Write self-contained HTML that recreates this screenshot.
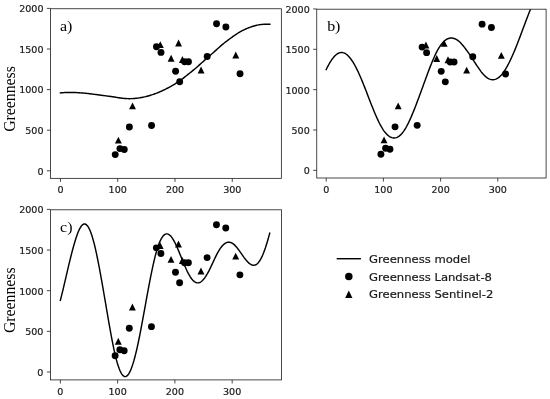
<!DOCTYPE html>
<html><head><meta charset="utf-8"><title>Greenness model</title>
<style>
html,body{margin:0;padding:0;background:#fff;}
body{width:550px;height:399px;overflow:hidden;}
svg{display:block;}
.tk{font-family:"DejaVu Sans","Liberation Sans",sans-serif;font-size:9.55px;fill:#1a1a1a;stroke:#1a1a1a;stroke-width:0.2px;}
.lg{font-family:"DejaVu Sans","Liberation Sans",sans-serif;font-size:10.9px;fill:#1a1a1a;stroke:#1a1a1a;stroke-width:0.2px;}
.sf{font-family:"Liberation Serif","DejaVu Serif",serif;font-size:15.8px;fill:#000;}
</style></head><body>
<svg width="550" height="399" viewBox="0 0 550 399">
<rect width="550" height="399" fill="#fff"/>
<clipPath id="clipa"><rect x="50.5" y="8.75" width="230.85" height="169.60"/></clipPath>
<g clip-path="url(#clipa)">
<path d="M60.45,92.87 L61.33,92.80 L62.20,92.74 L63.08,92.68 L63.95,92.62 L64.83,92.58 L65.71,92.53 L66.58,92.50 L67.46,92.47 L68.33,92.45 L69.21,92.44 L70.09,92.44 L70.96,92.44 L71.84,92.45 L72.71,92.46 L73.59,92.48 L74.47,92.51 L75.34,92.54 L76.22,92.58 L77.10,92.62 L77.97,92.67 L78.85,92.72 L79.72,92.78 L80.60,92.85 L81.48,92.91 L82.35,92.99 L83.23,93.06 L84.10,93.14 L84.98,93.22 L85.86,93.31 L86.73,93.40 L87.61,93.49 L88.48,93.59 L89.36,93.69 L90.24,93.80 L91.11,93.91 L91.99,94.02 L92.86,94.13 L93.74,94.25 L94.62,94.36 L95.49,94.48 L96.37,94.59 L97.24,94.71 L98.12,94.82 L99.00,94.94 L99.87,95.06 L100.75,95.18 L101.62,95.30 L102.50,95.42 L103.38,95.54 L104.25,95.65 L105.13,95.77 L106.01,95.88 L106.88,96.00 L107.76,96.11 L108.63,96.22 L109.51,96.33 L110.39,96.45 L111.26,96.57 L112.14,96.69 L113.01,96.82 L113.89,96.95 L114.77,97.09 L115.64,97.24 L116.52,97.38 L117.39,97.53 L118.27,97.67 L119.15,97.81 L120.02,97.94 L120.90,98.07 L121.77,98.18 L122.65,98.28 L123.53,98.37 L124.40,98.45 L125.28,98.52 L126.15,98.57 L127.03,98.61 L127.91,98.64 L128.78,98.66 L129.66,98.66 L130.54,98.65 L131.41,98.63 L132.29,98.60 L133.16,98.55 L134.04,98.50 L134.92,98.43 L135.79,98.34 L136.67,98.25 L137.54,98.14 L138.42,98.02 L139.30,97.88 L140.17,97.74 L141.05,97.58 L141.92,97.42 L142.80,97.24 L143.68,97.06 L144.55,96.86 L145.43,96.66 L146.30,96.44 L147.18,96.21 L148.06,95.97 L148.93,95.73 L149.81,95.47 L150.68,95.21 L151.56,94.93 L152.44,94.65 L153.31,94.35 L154.19,94.05 L155.06,93.73 L155.94,93.40 L156.82,93.07 L157.69,92.72 L158.57,92.36 L159.45,91.99 L160.32,91.61 L161.20,91.22 L162.07,90.83 L162.95,90.42 L163.83,90.00 L164.70,89.57 L165.58,89.14 L166.45,88.69 L167.33,88.24 L168.21,87.78 L169.08,87.31 L169.96,86.83 L170.83,86.34 L171.71,85.85 L172.59,85.34 L173.46,84.82 L174.34,84.29 L175.21,83.76 L176.09,83.21 L176.97,82.66 L177.84,82.09 L178.72,81.50 L179.59,80.90 L180.47,80.29 L181.35,79.65 L182.22,79.00 L183.10,78.32 L183.97,77.64 L184.85,76.94 L185.73,76.25 L186.60,75.55 L187.48,74.86 L188.36,74.17 L189.23,73.47 L190.11,72.78 L190.98,72.08 L191.86,71.37 L192.74,70.66 L193.61,69.93 L194.49,69.20 L195.36,68.46 L196.24,67.70 L197.12,66.94 L197.99,66.17 L198.87,65.39 L199.74,64.60 L200.62,63.81 L201.50,63.02 L202.37,62.23 L203.25,61.43 L204.12,60.63 L205.00,59.84 L205.88,59.05 L206.75,58.27 L207.63,57.50 L208.50,56.73 L209.38,55.98 L210.26,55.22 L211.13,54.47 L212.01,53.72 L212.89,52.96 L213.76,52.19 L214.64,51.42 L215.51,50.64 L216.39,49.85 L217.27,49.05 L218.14,48.26 L219.02,47.46 L219.89,46.68 L220.77,45.90 L221.65,45.15 L222.52,44.41 L223.40,43.69 L224.27,42.99 L225.15,42.30 L226.03,41.63 L226.90,40.96 L227.78,40.31 L228.65,39.65 L229.53,39.00 L230.41,38.36 L231.28,37.72 L232.16,37.08 L233.03,36.46 L233.91,35.84 L234.79,35.23 L235.66,34.64 L236.54,34.06 L237.41,33.49 L238.29,32.94 L239.17,32.41 L240.04,31.90 L240.92,31.41 L241.80,30.93 L242.67,30.48 L243.55,30.04 L244.42,29.62 L245.30,29.22 L246.18,28.83 L247.05,28.45 L247.93,28.10 L248.80,27.75 L249.68,27.42 L250.56,27.11 L251.43,26.81 L252.31,26.52 L253.18,26.24 L254.06,25.98 L254.94,25.73 L255.81,25.50 L256.69,25.28 L257.56,25.09 L258.44,24.91 L259.32,24.76 L260.19,24.63 L261.07,24.52 L261.94,24.42 L262.82,24.35 L263.70,24.29 L264.57,24.24 L265.45,24.21 L266.32,24.19 L267.20,24.18 L268.08,24.17 L268.95,24.16 L269.83,24.16" fill="none" stroke="#000" stroke-width="1.45" stroke-linecap="square" stroke-linejoin="round"/>
<circle cx="115.23" cy="154.60" r="3.45" fill="#000"/>
<circle cx="119.92" cy="148.60" r="3.45" fill="#000"/>
<circle cx="124.28" cy="149.57" r="3.45" fill="#000"/>
<circle cx="129.37" cy="127.04" r="3.45" fill="#000"/>
<circle cx="151.54" cy="125.50" r="3.45" fill="#000"/>
<circle cx="156.46" cy="46.80" r="3.45" fill="#000"/>
<circle cx="160.99" cy="52.39" r="3.45" fill="#000"/>
<circle cx="175.59" cy="71.20" r="3.45" fill="#000"/>
<circle cx="179.71" cy="81.73" r="3.45" fill="#000"/>
<circle cx="184.58" cy="61.71" r="3.45" fill="#000"/>
<circle cx="188.48" cy="61.71" r="3.45" fill="#000"/>
<circle cx="207.20" cy="56.53" r="3.45" fill="#000"/>
<circle cx="216.54" cy="23.70" r="3.45" fill="#000"/>
<circle cx="225.87" cy="27.02" r="3.45" fill="#000"/>
<circle cx="240.02" cy="73.79" r="3.45" fill="#000"/>
<path d="M118.38,136.64 L114.93,143.54 L121.83,143.54 Z" fill="#000"/>
<path d="M132.52,102.44 L129.07,109.34 L135.97,109.34 Z" fill="#000"/>
<path d="M160.30,41.16 L156.85,48.06 L163.75,48.06 Z" fill="#000"/>
<path d="M178.57,39.54 L175.12,46.44 L182.02,46.44 Z" fill="#000"/>
<path d="M171.12,54.86 L167.67,61.76 L174.57,61.76 Z" fill="#000"/>
<path d="M182.41,55.99 L178.96,62.89 L185.86,62.89 Z" fill="#000"/>
<path d="M201.08,66.53 L197.63,73.43 L204.53,73.43 Z" fill="#000"/>
<path d="M235.78,51.62 L232.33,58.52 L239.23,58.52 Z" fill="#000"/>
</g>
<line x1="60.45" y1="178.35" x2="60.45" y2="181.95" stroke="#1c1c1c" stroke-width="0.8"/>
<text class="tk" text-anchor="middle" transform="translate(60.45,193.40) scale(1.0,1)">0</text>
<line x1="117.72" y1="178.35" x2="117.72" y2="181.95" stroke="#1c1c1c" stroke-width="0.8"/>
<text class="tk" text-anchor="middle" transform="translate(117.72,193.40) scale(1.0,1)">100</text>
<line x1="174.99" y1="178.35" x2="174.99" y2="181.95" stroke="#1c1c1c" stroke-width="0.8"/>
<text class="tk" text-anchor="middle" transform="translate(174.99,193.40) scale(1.0,1)">200</text>
<line x1="232.26" y1="178.35" x2="232.26" y2="181.95" stroke="#1c1c1c" stroke-width="0.8"/>
<text class="tk" text-anchor="middle" transform="translate(232.26,193.40) scale(1.0,1)">300</text>
<line x1="46.9" y1="170.80" x2="50.5" y2="170.80" stroke="#1c1c1c" stroke-width="0.8"/>
<text class="tk" text-anchor="end" transform="translate(43.50,174.65) scale(1.0,1)">0</text>
<line x1="46.9" y1="130.20" x2="50.5" y2="130.20" stroke="#1c1c1c" stroke-width="0.8"/>
<text class="tk" text-anchor="end" transform="translate(43.50,134.05) scale(1.0,1)">500</text>
<line x1="46.9" y1="89.60" x2="50.5" y2="89.60" stroke="#1c1c1c" stroke-width="0.8"/>
<text class="tk" text-anchor="end" transform="translate(43.50,93.45) scale(1.0,1)">1000</text>
<line x1="46.9" y1="49.00" x2="50.5" y2="49.00" stroke="#1c1c1c" stroke-width="0.8"/>
<text class="tk" text-anchor="end" transform="translate(43.50,52.85) scale(1.0,1)">1500</text>
<line x1="46.9" y1="8.40" x2="50.5" y2="8.40" stroke="#1c1c1c" stroke-width="0.8"/>
<text class="tk" text-anchor="end" transform="translate(43.50,12.25) scale(1.0,1)">2000</text>
<rect x="50.5" y="8.75" width="230.85" height="169.60" fill="none" stroke="#1c1c1c" stroke-width="0.8"/>
<text class="sf" style="font-size:15.5px" transform="translate(60.00,31.10) scale(1.03,1)">a)</text>
<text class="sf" text-anchor="middle" transform="translate(15.2,98.95) rotate(-90) scale(1,1.03)">Greenness</text>
<clipPath id="clipb"><rect x="316.75" y="9.2" width="229.35" height="168.80"/></clipPath>
<g clip-path="url(#clipb)">
<path d="M326.20,69.56 L327.07,67.79 L327.95,66.10 L328.82,64.50 L329.70,62.98 L330.57,61.55 L331.45,60.21 L332.32,58.96 L333.20,57.82 L334.07,56.77 L334.95,55.84 L335.82,55.01 L336.70,54.30 L337.57,53.70 L338.45,53.22 L339.32,52.86 L340.20,52.61 L341.07,52.49 L341.95,52.48 L342.82,52.60 L343.70,52.83 L344.57,53.19 L345.45,53.66 L346.32,54.24 L347.20,54.94 L348.07,55.75 L348.95,56.66 L349.82,57.68 L350.70,58.80 L351.57,60.01 L352.45,61.31 L353.32,62.70 L354.20,64.18 L355.07,65.74 L355.95,67.39 L356.82,69.11 L357.70,70.91 L358.57,72.77 L359.45,74.71 L360.32,76.70 L361.20,78.75 L362.07,80.85 L362.95,82.99 L363.82,85.17 L364.70,87.38 L365.57,89.61 L366.45,91.86 L367.32,94.13 L368.20,96.39 L369.07,98.66 L369.95,100.92 L370.82,103.17 L371.70,105.40 L372.57,107.60 L373.45,109.77 L374.32,111.90 L375.20,113.99 L376.07,116.02 L376.95,117.99 L377.82,119.90 L378.70,121.73 L379.57,123.47 L380.45,125.13 L381.32,126.70 L382.20,128.17 L383.07,129.54 L383.95,130.81 L384.82,131.97 L385.70,133.04 L386.57,134.00 L387.45,134.86 L388.32,135.62 L389.20,136.27 L390.07,136.83 L390.95,137.27 L391.82,137.61 L392.70,137.84 L393.57,137.96 L394.45,137.97 L395.32,137.87 L396.20,137.65 L397.07,137.32 L397.95,136.87 L398.82,136.32 L399.70,135.65 L400.57,134.87 L401.45,133.97 L402.32,132.96 L403.20,131.84 L404.07,130.61 L404.95,129.27 L405.82,127.82 L406.70,126.27 L407.57,124.62 L408.45,122.88 L409.32,121.06 L410.20,119.15 L411.07,117.17 L411.95,115.13 L412.82,113.03 L413.70,110.87 L414.57,108.67 L415.45,106.43 L416.32,104.15 L417.20,101.86 L418.07,99.54 L418.95,97.20 L419.82,94.85 L420.70,92.48 L421.57,90.10 L422.45,87.70 L423.32,85.29 L424.20,82.87 L425.07,80.45 L425.95,78.03 L426.82,75.63 L427.70,73.26 L428.57,70.92 L429.45,68.62 L430.32,66.37 L431.20,64.17 L432.07,62.03 L432.95,59.95 L433.82,57.94 L434.70,56.00 L435.57,54.15 L436.45,52.38 L437.32,50.71 L438.20,49.14 L439.07,47.67 L439.95,46.30 L440.82,45.04 L441.70,43.89 L442.57,42.84 L443.45,41.90 L444.32,41.06 L445.20,40.33 L446.07,39.71 L446.95,39.19 L447.82,38.76 L448.70,38.44 L449.57,38.21 L450.45,38.07 L451.32,38.03 L452.20,38.07 L453.07,38.21 L453.95,38.43 L454.82,38.73 L455.70,39.13 L456.57,39.60 L457.45,40.16 L458.32,40.80 L459.20,41.52 L460.07,42.33 L460.95,43.21 L461.82,44.16 L462.70,45.18 L463.57,46.25 L464.45,47.37 L465.32,48.53 L466.20,49.72 L467.07,50.93 L467.95,52.16 L468.82,53.42 L469.70,54.69 L470.57,55.98 L471.45,57.29 L472.32,58.62 L473.20,59.96 L474.07,61.31 L474.95,62.65 L475.82,64.00 L476.70,65.33 L477.57,66.65 L478.45,67.94 L479.32,69.19 L480.20,70.41 L481.07,71.58 L481.95,72.69 L482.82,73.74 L483.70,74.72 L484.57,75.62 L485.45,76.43 L486.32,77.16 L487.20,77.80 L488.07,78.35 L488.95,78.80 L489.82,79.17 L490.70,79.44 L491.57,79.63 L492.45,79.71 L493.32,79.71 L494.20,79.60 L495.07,79.40 L495.95,79.10 L496.82,78.69 L497.70,78.19 L498.57,77.58 L499.45,76.87 L500.32,76.06 L501.20,75.14 L502.07,74.13 L502.95,73.01 L503.82,71.80 L504.70,70.50 L505.57,69.12 L506.45,67.64 L507.32,66.09 L508.20,64.47 L509.07,62.77 L509.95,61.00 L510.82,59.17 L511.70,57.27 L512.57,55.32 L513.45,53.31 L514.32,51.24 L515.20,49.12 L516.07,46.95 L516.95,44.75 L517.82,42.50 L518.70,40.23 L519.57,37.93 L520.45,35.62 L521.32,33.29 L522.20,30.96 L523.07,28.62 L523.95,26.28 L524.82,23.94 L525.70,21.60 L526.57,19.28 L527.45,16.98 L528.32,14.69 L529.20,12.43 L530.07,10.21 L530.95,8.02 L531.82,5.87 L532.70,3.78 L533.57,1.74 L534.45,-0.24 L535.32,-2.14" fill="none" stroke="#000" stroke-width="1.45" stroke-linecap="square" stroke-linejoin="round"/>
<circle cx="380.91" cy="154.25" r="3.45" fill="#000"/>
<circle cx="385.60" cy="148.29" r="3.45" fill="#000"/>
<circle cx="389.95" cy="149.25" r="3.45" fill="#000"/>
<circle cx="395.04" cy="126.86" r="3.45" fill="#000"/>
<circle cx="417.18" cy="125.33" r="3.45" fill="#000"/>
<circle cx="422.10" cy="47.11" r="3.45" fill="#000"/>
<circle cx="426.61" cy="52.67" r="3.45" fill="#000"/>
<circle cx="441.20" cy="71.36" r="3.45" fill="#000"/>
<circle cx="445.32" cy="81.83" r="3.45" fill="#000"/>
<circle cx="450.18" cy="61.94" r="3.45" fill="#000"/>
<circle cx="454.07" cy="61.94" r="3.45" fill="#000"/>
<circle cx="472.77" cy="56.78" r="3.45" fill="#000"/>
<circle cx="482.10" cy="24.16" r="3.45" fill="#000"/>
<circle cx="491.42" cy="27.46" r="3.45" fill="#000"/>
<circle cx="505.55" cy="73.94" r="3.45" fill="#000"/>
<path d="M384.06,136.38 L380.61,143.28 L387.51,143.28 Z" fill="#000"/>
<path d="M398.19,102.39 L394.74,109.29 L401.64,109.29 Z" fill="#000"/>
<path d="M425.93,41.49 L422.48,48.39 L429.38,48.39 Z" fill="#000"/>
<path d="M444.17,39.88 L440.72,46.78 L447.62,46.78 Z" fill="#000"/>
<path d="M436.74,55.10 L433.29,62.00 L440.19,62.00 Z" fill="#000"/>
<path d="M448.01,56.23 L444.56,63.13 L451.46,63.13 Z" fill="#000"/>
<path d="M466.65,66.70 L463.20,73.60 L470.10,73.60 Z" fill="#000"/>
<path d="M501.32,51.88 L497.87,58.78 L504.77,58.78 Z" fill="#000"/>
</g>
<line x1="326.20" y1="178.0" x2="326.20" y2="181.6" stroke="#1c1c1c" stroke-width="0.8"/>
<text class="tk" text-anchor="middle" transform="translate(326.20,193.05) scale(1.0,1)">0</text>
<line x1="383.40" y1="178.0" x2="383.40" y2="181.6" stroke="#1c1c1c" stroke-width="0.8"/>
<text class="tk" text-anchor="middle" transform="translate(383.40,193.05) scale(1.0,1)">100</text>
<line x1="440.60" y1="178.0" x2="440.60" y2="181.6" stroke="#1c1c1c" stroke-width="0.8"/>
<text class="tk" text-anchor="middle" transform="translate(440.60,193.05) scale(1.0,1)">200</text>
<line x1="497.80" y1="178.0" x2="497.80" y2="181.6" stroke="#1c1c1c" stroke-width="0.8"/>
<text class="tk" text-anchor="middle" transform="translate(497.80,193.05) scale(1.0,1)">300</text>
<line x1="313.15" y1="170.35" x2="316.75" y2="170.35" stroke="#1c1c1c" stroke-width="0.8"/>
<text class="tk" text-anchor="end" transform="translate(309.75,174.20) scale(1.0,1)">0</text>
<line x1="313.15" y1="130.00" x2="316.75" y2="130.00" stroke="#1c1c1c" stroke-width="0.8"/>
<text class="tk" text-anchor="end" transform="translate(309.75,133.85) scale(1.0,1)">500</text>
<line x1="313.15" y1="89.65" x2="316.75" y2="89.65" stroke="#1c1c1c" stroke-width="0.8"/>
<text class="tk" text-anchor="end" transform="translate(309.75,93.50) scale(1.0,1)">1000</text>
<line x1="313.15" y1="49.30" x2="316.75" y2="49.30" stroke="#1c1c1c" stroke-width="0.8"/>
<text class="tk" text-anchor="end" transform="translate(309.75,53.15) scale(1.0,1)">1500</text>
<line x1="313.15" y1="8.95" x2="316.75" y2="8.95" stroke="#1c1c1c" stroke-width="0.8"/>
<text class="tk" text-anchor="end" transform="translate(309.75,12.80) scale(1.0,1)">2000</text>
<rect x="316.75" y="9.2" width="229.35" height="168.80" fill="none" stroke="#1c1c1c" stroke-width="0.8"/>
<text class="sf" style="font-size:15.5px" transform="translate(327.15,31.10) scale(1.03,1)">b)</text>
<clipPath id="clipc"><rect x="50.45" y="209.8" width="231.00" height="170.10"/></clipPath>
<g clip-path="url(#clipc)">
<path d="M60.35,300.34 L61.23,296.92 L62.10,293.40 L62.98,289.80 L63.85,286.12 L64.73,282.40 L65.61,278.64 L66.48,274.87 L67.36,271.11 L68.23,267.38 L69.11,263.69 L69.99,260.07 L70.86,256.53 L71.74,253.08 L72.61,249.74 L73.49,246.52 L74.37,243.44 L75.24,240.50 L76.12,237.74 L77.00,235.17 L77.87,232.81 L78.75,230.71 L79.62,228.86 L80.50,227.29 L81.38,226.01 L82.25,225.04 L83.13,224.38 L84.00,224.03 L84.88,224.01 L85.76,224.31 L86.63,224.95 L87.51,225.91 L88.38,227.20 L89.26,228.82 L90.14,230.76 L91.01,233.01 L91.89,235.57 L92.76,238.44 L93.64,241.58 L94.52,245.00 L95.39,248.68 L96.27,252.60 L97.14,256.73 L98.02,261.07 L98.90,265.58 L99.77,270.24 L100.65,275.03 L101.52,279.92 L102.40,284.89 L103.28,289.92 L104.15,295.00 L105.03,300.11 L105.91,305.24 L106.78,310.36 L107.66,315.46 L108.53,320.53 L109.41,325.54 L110.29,330.46 L111.16,335.26 L112.04,339.91 L112.91,344.38 L113.79,348.64 L114.67,352.64 L115.54,356.37 L116.42,359.81 L117.29,362.94 L118.17,365.76 L119.05,368.27 L119.92,370.46 L120.80,372.33 L121.67,373.86 L122.55,375.07 L123.43,375.93 L124.30,376.46 L125.18,376.63 L126.05,376.47 L126.93,375.96 L127.81,375.11 L128.68,373.93 L129.56,372.42 L130.44,370.60 L131.31,368.49 L132.19,366.08 L133.06,363.40 L133.94,360.47 L134.82,357.28 L135.69,353.86 L136.57,350.21 L137.44,346.34 L138.32,342.27 L139.20,338.02 L140.07,333.61 L140.95,329.07 L141.82,324.42 L142.70,319.69 L143.58,314.91 L144.45,310.09 L145.33,305.27 L146.20,300.46 L147.08,295.67 L147.96,290.93 L148.83,286.25 L149.71,281.66 L150.58,277.17 L151.46,272.81 L152.34,268.60 L153.21,264.57 L154.09,260.73 L154.96,257.11 L155.84,253.73 L156.72,250.61 L157.59,247.75 L158.47,245.17 L159.35,242.86 L160.22,240.82 L161.10,239.05 L161.97,237.55 L162.85,236.30 L163.73,235.32 L164.60,234.59 L165.48,234.11 L166.35,233.87 L167.23,233.87 L168.11,234.10 L168.98,234.55 L169.86,235.22 L170.73,236.08 L171.61,237.13 L172.49,238.37 L173.36,239.77 L174.24,241.33 L175.11,243.03 L175.99,244.85 L176.87,246.78 L177.74,248.80 L178.62,250.88 L179.49,253.01 L180.37,255.17 L181.25,257.33 L182.12,259.49 L183.00,261.63 L183.87,263.74 L184.75,265.81 L185.63,267.82 L186.50,269.75 L187.38,271.59 L188.26,273.33 L189.13,274.95 L190.01,276.44 L190.88,277.78 L191.76,278.98 L192.64,280.03 L193.51,280.92 L194.39,281.64 L195.26,282.20 L196.14,282.60 L197.02,282.82 L197.89,282.88 L198.77,282.77 L199.64,282.50 L200.52,282.07 L201.40,281.48 L202.27,280.74 L203.15,279.86 L204.02,278.84 L204.90,277.69 L205.78,276.40 L206.65,274.99 L207.53,273.46 L208.40,271.84 L209.28,270.12 L210.16,268.33 L211.03,266.49 L211.91,264.61 L212.79,262.72 L213.66,260.83 L214.54,258.97 L215.41,257.14 L216.29,255.37 L217.17,253.68 L218.04,252.08 L218.92,250.57 L219.79,249.18 L220.67,247.91 L221.55,246.76 L222.42,245.74 L223.30,244.84 L224.17,244.07 L225.05,243.43 L225.93,242.92 L226.80,242.54 L227.68,242.30 L228.55,242.19 L229.43,242.22 L230.31,242.39 L231.18,242.69 L232.06,243.12 L232.93,243.67 L233.81,244.34 L234.69,245.13 L235.56,246.02 L236.44,247.01 L237.31,248.08 L238.19,249.22 L239.07,250.41 L239.94,251.64 L240.82,252.90 L241.70,254.16 L242.57,255.41 L243.45,256.65 L244.32,257.85 L245.20,258.99 L246.08,260.08 L246.95,261.10 L247.83,262.03 L248.70,262.87 L249.58,263.60 L250.46,264.22 L251.33,264.70 L252.21,265.04 L253.08,265.24 L253.96,265.27 L254.84,265.13 L255.71,264.80 L256.59,264.29 L257.46,263.58 L258.34,262.67 L259.22,261.55 L260.09,260.22 L260.97,258.68 L261.84,256.93 L262.72,254.98 L263.60,252.84 L264.47,250.51 L265.35,248.01 L266.22,245.34 L267.10,242.51 L267.98,239.53 L268.85,236.41 L269.73,233.16" fill="none" stroke="#000" stroke-width="1.45" stroke-linecap="square" stroke-linejoin="round"/>
<circle cx="115.13" cy="355.78" r="3.45" fill="#000"/>
<circle cx="119.82" cy="349.77" r="3.45" fill="#000"/>
<circle cx="124.18" cy="350.75" r="3.45" fill="#000"/>
<circle cx="129.27" cy="328.19" r="3.45" fill="#000"/>
<circle cx="151.44" cy="326.64" r="3.45" fill="#000"/>
<circle cx="156.36" cy="247.85" r="3.45" fill="#000"/>
<circle cx="160.89" cy="253.45" r="3.45" fill="#000"/>
<circle cx="175.49" cy="272.27" r="3.45" fill="#000"/>
<circle cx="179.61" cy="282.82" r="3.45" fill="#000"/>
<circle cx="184.48" cy="262.78" r="3.45" fill="#000"/>
<circle cx="188.38" cy="262.78" r="3.45" fill="#000"/>
<circle cx="207.10" cy="257.59" r="3.45" fill="#000"/>
<circle cx="216.44" cy="224.72" r="3.45" fill="#000"/>
<circle cx="225.77" cy="228.05" r="3.45" fill="#000"/>
<circle cx="239.92" cy="274.87" r="3.45" fill="#000"/>
<path d="M118.28,337.80 L114.83,344.70 L121.73,344.70 Z" fill="#000"/>
<path d="M132.42,303.56 L128.97,310.46 L135.87,310.46 Z" fill="#000"/>
<path d="M160.20,242.21 L156.75,249.11 L163.65,249.11 Z" fill="#000"/>
<path d="M178.47,240.58 L175.02,247.48 L181.92,247.48 Z" fill="#000"/>
<path d="M171.02,255.92 L167.57,262.82 L174.47,262.82 Z" fill="#000"/>
<path d="M182.31,257.06 L178.86,263.96 L185.76,263.96 Z" fill="#000"/>
<path d="M200.98,267.61 L197.53,274.51 L204.43,274.51 Z" fill="#000"/>
<path d="M235.68,252.67 L232.23,259.57 L239.13,259.57 Z" fill="#000"/>
</g>
<line x1="60.35" y1="379.9" x2="60.35" y2="383.5" stroke="#1c1c1c" stroke-width="0.8"/>
<text class="tk" text-anchor="middle" transform="translate(60.35,394.95) scale(1.0,1)">0</text>
<line x1="117.62" y1="379.9" x2="117.62" y2="383.5" stroke="#1c1c1c" stroke-width="0.8"/>
<text class="tk" text-anchor="middle" transform="translate(117.62,394.95) scale(1.0,1)">100</text>
<line x1="174.89" y1="379.9" x2="174.89" y2="383.5" stroke="#1c1c1c" stroke-width="0.8"/>
<text class="tk" text-anchor="middle" transform="translate(174.89,394.95) scale(1.0,1)">200</text>
<line x1="232.16" y1="379.9" x2="232.16" y2="383.5" stroke="#1c1c1c" stroke-width="0.8"/>
<text class="tk" text-anchor="middle" transform="translate(232.16,394.95) scale(1.0,1)">300</text>
<line x1="46.85" y1="372.00" x2="50.45" y2="372.00" stroke="#1c1c1c" stroke-width="0.8"/>
<text class="tk" text-anchor="end" transform="translate(43.45,375.85) scale(1.0,1)">0</text>
<line x1="46.85" y1="331.35" x2="50.45" y2="331.35" stroke="#1c1c1c" stroke-width="0.8"/>
<text class="tk" text-anchor="end" transform="translate(43.45,335.20) scale(1.0,1)">500</text>
<line x1="46.85" y1="290.70" x2="50.45" y2="290.70" stroke="#1c1c1c" stroke-width="0.8"/>
<text class="tk" text-anchor="end" transform="translate(43.45,294.55) scale(1.0,1)">1000</text>
<line x1="46.85" y1="250.05" x2="50.45" y2="250.05" stroke="#1c1c1c" stroke-width="0.8"/>
<text class="tk" text-anchor="end" transform="translate(43.45,253.90) scale(1.0,1)">1500</text>
<line x1="46.85" y1="209.40" x2="50.45" y2="209.40" stroke="#1c1c1c" stroke-width="0.8"/>
<text class="tk" text-anchor="end" transform="translate(43.45,213.25) scale(1.0,1)">2000</text>
<rect x="50.45" y="209.8" width="231.00" height="170.10" fill="none" stroke="#1c1c1c" stroke-width="0.8"/>
<text class="sf" style="font-size:15.5px" transform="translate(60.05,231.95) scale(1.03,1)">c)</text>
<text class="sf" text-anchor="middle" transform="translate(15.2,300.25) rotate(-90) scale(1,1.03)">Greenness</text>
<line x1="337.4" y1="258.7" x2="360.2" y2="258.7" stroke="#000" stroke-width="1.45" stroke-linecap="square"/>
<circle cx="348.8" cy="276.4" r="3.75" fill="#000"/>
<path d="M348.80,290.60 L345.15,297.90 L352.45,297.90 Z" fill="#000"/>
<text class="lg" transform="translate(369.1,263.00) scale(1.064,1)">Greenness model</text>
<text class="lg" transform="translate(369.1,280.70) scale(1.064,1)">Greenness Landsat-8</text>
<text class="lg" transform="translate(369.1,298.40) scale(1.064,1)">Greenness Sentinel-2</text>
</svg>
</body></html>
